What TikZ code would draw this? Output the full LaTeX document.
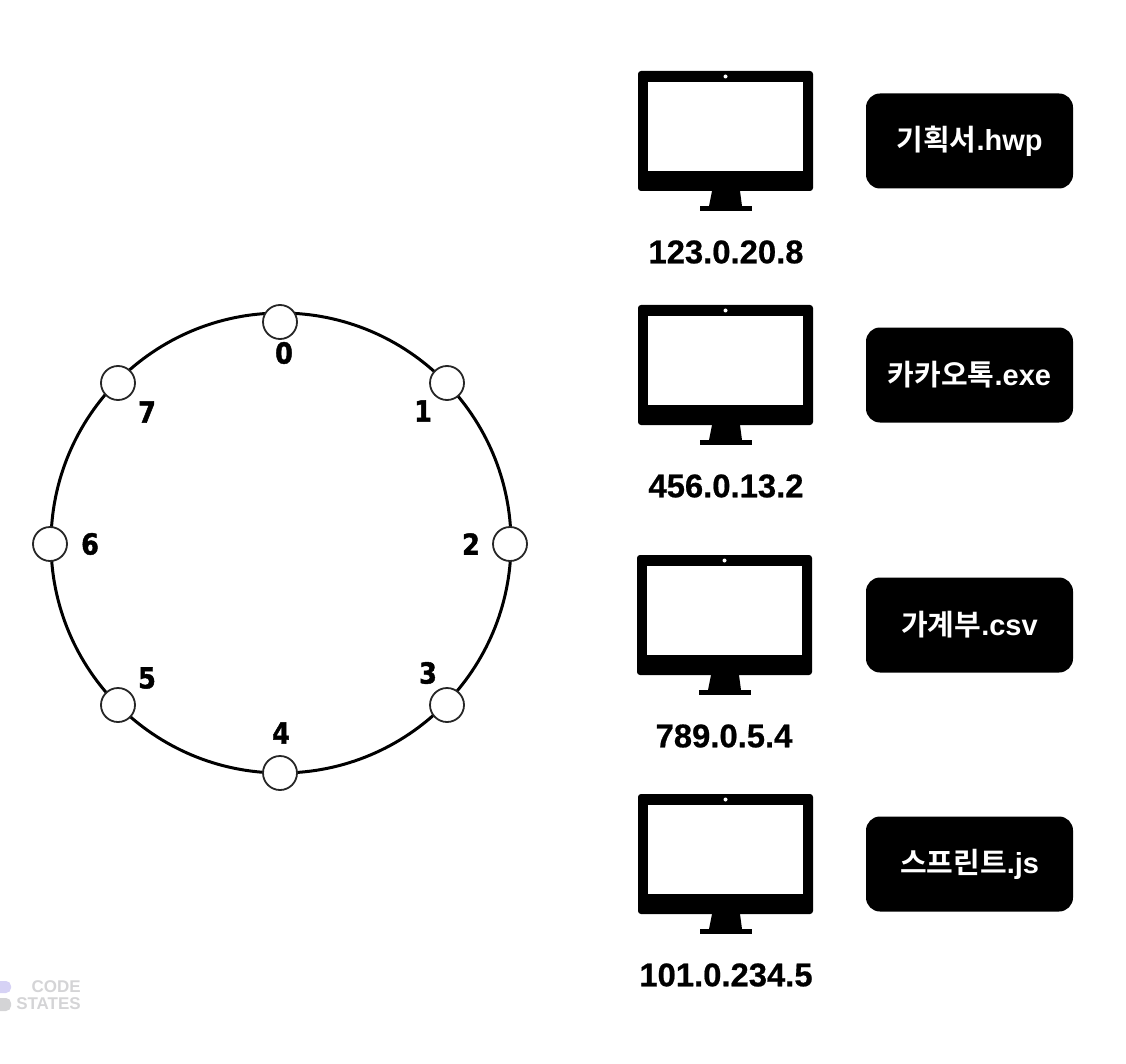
\documentclass[tikz,border=0pt]{standalone}
\usepackage{fontspec}
\setmainfont{Liberation Sans}
\newfontfamily\krfont{Noto Sans CJK KR}[BoldFont={Noto Sans CJK KR Bold}]
\newfontfamily\digitfont{DejaVu Sans}[BoldFeatures={FakeBold=1.5,FakeStretch=0.88}]
\newfontfamily\ipfont{Liberation Sans}[BoldFeatures={FakeBold=0.6}]
\definecolor{logop}{HTML}{D6D2F5}
\definecolor{logog}{HTML}{D4D4D6}
\tikzset{
  ring/.style={circle,draw=black,line width=3pt,minimum size=460pt,inner sep=0pt},
  peer/.style={circle,draw=black!85,line width=1.8pt,fill=white,minimum size=34pt,inner sep=0pt},
  idx/.style={font=\digitfont\bfseries\fontsize{29}{29}\selectfont,inner sep=0pt},
  ip/.style={font=\ipfont\bfseries\fontsize{32.8}{33}\selectfont,inner sep=0pt},
  filebox/.style={fill=black,rounded corners=14pt,minimum width=207pt,minimum height=95pt,inner sep=0pt,text=white,font=\bfseries\fontsize{29}{29}\selectfont},
  logotext/.style={text=logog,font=\bfseries\fontsize{17}{17}\selectfont,inner sep=0pt,anchor=east},
  pics/monitor/.style={code={
    \fill[black,rounded corners=3pt] (0,0) rectangle (175,120);
    \fill[white] (10,11) rectangle (165,100);
    \fill[white] (87.5,5.5) circle (2);
    \fill[black] (74,120) -- (102,120) -- (104,135) -- (71,135) -- cycle;
    \fill[black] (62,135) rectangle (114,140);
  }}
}
\begin{document}
\begin{tikzpicture}[x=1pt,y=-1pt]
\useasboundingbox (0,0) rectangle (1126,1064);
\node[ring] (r) at (281,543) {};
\node[peer] (p0) at (280,322) {};
\node[peer] (p1) at (447,383) {};
\node[peer] (p2) at (510,544) {};
\node[peer] (p3) at (447,705) {};
\node[peer] (p4) at (280,773) {};
\node[peer] (p5) at (118,705) {};
\node[peer] (p6) at (50,544) {};
\node[peer] (p7) at (118,383) {};
\node[idx] (n0) at (284,353) {0};
\node[idx] (n1) at (423,411) {1};
\node[idx] (n2) at (471,544) {2};
\node[idx] (n3) at (428,673) {3};
\node[idx] (n4) at (281,733) {4};
\node[idx] (n5) at (147,678) {5};
\node[idx] (n6) at (90,544) {6};
\node[idx] (n7) at (147,412) {7};
\pic at (638,71) {monitor};
\pic at (638,305) {monitor};
\pic at (637,555) {monitor};
\pic at (638,794) {monitor};
\node[ip] (i1) at (726,252) {123.0.20.8};
\node[ip] (i2) at (726,486) {456.0.13.2};
\node[ip] (i3) at (724,736) {789.0.5.4};
\node[ip] (i4) at (726,975) {101.0.234.5};
\node[filebox] (f1) at (969.5,141) {{\krfont\bfseries 기획서}.hwp};
\node[filebox] (f2) at (969.5,375) {{\krfont\bfseries 카카오톡}.exe};
\node[filebox] (f3) at (969.5,625) {{\krfont\bfseries 가계부}.csv};
\node[filebox] (f4) at (969.5,864) {{\krfont\bfseries 스프린트}.js};
\fill[logop,rounded corners=5pt] (-8,981) rectangle (11,993);
\fill[logog,rounded corners=5pt] (-8,998) rectangle (11,1011);
\node[logotext] (l1) at (81,987) {CODE};
\node[logotext] (l2) at (81,1004) {STATES};
\end{tikzpicture}
\end{document}
